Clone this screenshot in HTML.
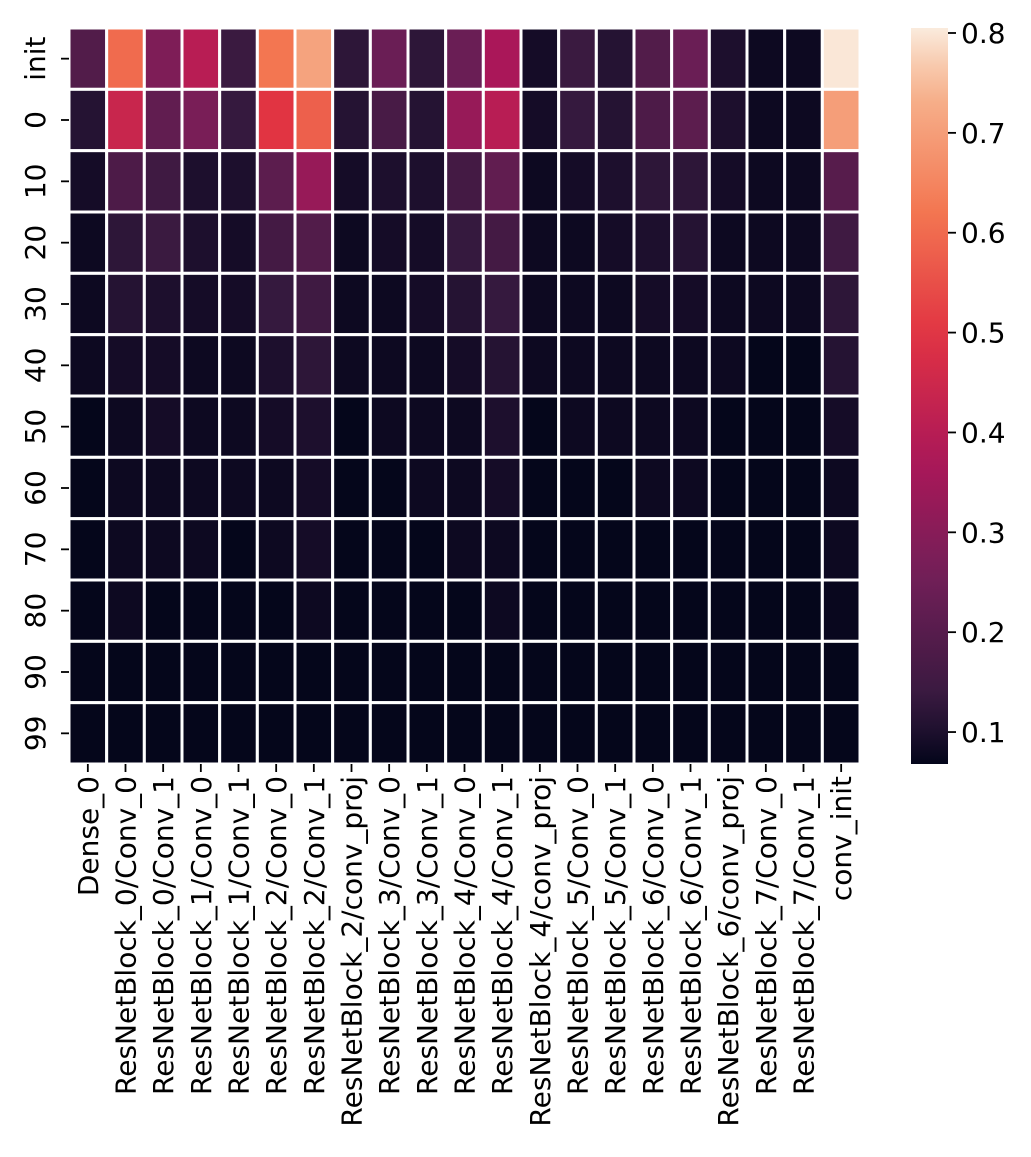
<!DOCTYPE html>
<html><head><meta charset="utf-8"><style>
body{margin:0;background:#fff}
svg text{font-family:"DejaVu Sans","Liberation Sans",sans-serif;font-size:28px;fill:#000}
</style></head><body>
<svg id="chart" width="1031" height="1152" xmlns="http://www.w3.org/2000/svg">
<defs><linearGradient id="cbgrad" x1="0" y1="1" x2="0" y2="0"></linearGradient></defs>
</svg>
<script>
const cols=["Dense_0","ResNetBlock_0/Conv_0","ResNetBlock_0/Conv_1","ResNetBlock_1/Conv_0","ResNetBlock_1/Conv_1","ResNetBlock_2/Conv_0","ResNetBlock_2/Conv_1","ResNetBlock_2/conv_proj","ResNetBlock_3/Conv_0","ResNetBlock_3/Conv_1","ResNetBlock_4/Conv_0","ResNetBlock_4/Conv_1","ResNetBlock_4/conv_proj","ResNetBlock_5/Conv_0","ResNetBlock_5/Conv_1","ResNetBlock_6/Conv_0","ResNetBlock_6/Conv_1","ResNetBlock_6/conv_proj","ResNetBlock_7/Conv_0","ResNetBlock_7/Conv_1","conv_init"];
const rows=["init","0","10","20","30","40","50","60","70","80","90","99"];
const rowInit=[0.19,0.60,0.28,0.40,0.14,0.62,0.71,0.12,0.24,0.12,0.24,0.37,0.09,0.14,0.11,0.19,0.24,0.10,0.08,0.08,0.80];
const row0=[0.11,0.44,0.22,0.27,0.13,0.50,0.58,0.11,0.17,0.11,0.33,0.40,0.09,0.13,0.11,0.18,0.21,0.10,0.08,0.08,0.70];
const row10=[0.09,0.18,0.15,0.10,0.10,0.21,0.33,0.09,0.10,0.10,0.16,0.22,0.08,0.09,0.10,0.12,0.12,0.09,0.08,0.08,0.20];
const row20=[0.08,0.12,0.14,0.10,0.09,0.16,0.19,0.08,0.09,0.09,0.13,0.16,0.08,0.08,0.09,0.10,0.11,0.08,0.08,0.08,0.15];
const row30=[0.08,0.11,0.10,0.09,0.09,0.13,0.15,0.08,0.08,0.09,0.11,0.13,0.08,0.08,0.08,0.09,0.09,0.08,0.08,0.08,0.12];
const row40=[0.08,0.09,0.09,0.08,0.08,0.10,0.12,0.08,0.08,0.08,0.09,0.11,0.08,0.08,0.08,0.08,0.08,0.08,0.07,0.07,0.11];
const row50=[0.07,0.08,0.09,0.08,0.08,0.09,0.10,0.07,0.08,0.08,0.08,0.10,0.07,0.08,0.08,0.08,0.08,0.07,0.07,0.07,0.09];
const row60=[0.07,0.08,0.08,0.08,0.08,0.08,0.09,0.07,0.07,0.08,0.08,0.09,0.07,0.07,0.07,0.08,0.08,0.07,0.07,0.07,0.08];
const row70=[0.07,0.08,0.08,0.08,0.07,0.08,0.09,0.07,0.07,0.07,0.08,0.08,0.07,0.07,0.07,0.07,0.07,0.07,0.07,0.07,0.08];
const row80=[0.07,0.08,0.07,0.07,0.07,0.07,0.08,0.07,0.07,0.07,0.07,0.08,0.07,0.07,0.07,0.07,0.07,0.07,0.07,0.07,0.075];
const row90=[0.07,0.07,0.07,0.07,0.07,0.07,0.07,0.07,0.07,0.07,0.07,0.07,0.07,0.07,0.07,0.07,0.07,0.07,0.07,0.07,0.07];
const row99=[0.07,0.07,0.07,0.07,0.07,0.07,0.07,0.07,0.07,0.07,0.07,0.07,0.07,0.07,0.07,0.07,0.07,0.07,0.07,0.07,0.07];
const values=[rowInit,row0,row10,row20,row30,row40,row50,row60,row70,row80,row90,row99];
const cbTicks=[0.1,0.2,0.3,0.4,0.5,0.6,0.7,0.8];
const vmin=0.068, vmax=0.805;

const NS="http://www.w3.org/2000/svg";
const svg=document.getElementById('chart');
const L=69,R=860,T=28,B=764;
const cw=(R-L)/cols.length, rh=(B-T)/rows.length;
const xs=i=>L+i*cw, ys=j=>T+j*rh;
const stops=[[0,[3,5,26]],[1/12,[53,25,62]],[3/12,[112,31,87]],[5/12,[173,23,89]],[7/12,[225,51,66]],[9/12,[243,118,81]],[11/12,[246,180,143]],[1,[250,235,221]]];
function cmap(t){t=Math.max(0,Math.min(1,t));for(let k=1;k<stops.length;k++){if(t<=stops[k][0]){const a=stops[k-1],b=stops[k];const f=(t-a[0])/(b[0]-a[0]);const c=a[1].map((v,i)=>Math.round(v+(b[1][i]-v)*f));return `rgb(${c})`;}}return 'rgb(250,235,221)';}
function mk(tag,attrs,parent){const e=document.createElementNS(NS,tag);for(const k in attrs)e.setAttribute(k,attrs[k]);(parent||svg).appendChild(e);return e;}
const g=mk('g',{});


values.forEach((row,j)=>row.forEach((v,i)=>{
 const r=mk('rect',{x:xs(i),y:ys(j),width:cw,height:rh,fill:cmap((v-vmin)/(vmax-vmin)),stroke:'#fff','stroke-width':3},g);
 
 
}));
cols.forEach((c,i)=>{
 const x=xs(i)+cw/2;
 const t=mk('line',{x1:x,x2:x,y1:B,y2:B+8,stroke:'#000','stroke-width':1.8});
 
 
 const tx=mk('text',{x:0,y:0,transform:`translate(${x+10},${B+12}) rotate(-90)`,'text-anchor':'end'});
 tx.textContent=c;
 
 
});
rows.forEach((r,j)=>{
 const y=ys(j)+rh/2;
 const t=mk('line',{x1:L-8,x2:L,y1:y,y2:y,stroke:'#000','stroke-width':1.8});
 
 
 const tx=mk('text',{x:0,y:0,transform:`translate(${L-24},${y}) rotate(-90)`,'text-anchor':'middle'});
 tx.textContent=r;
 
 
});
const CL=911,CR=948;
const grad=document.getElementById('cbgrad');
for(let k=0;k<=20;k++){mk('stop',{offset:k/20,'stop-color':cmap(k/20)},grad);}
const cb=mk('rect',{x:CL,y:T,width:CR-CL,height:B-T,fill:'url(#cbgrad)'});


const cy=v=>B-(v-vmin)/(vmax-vmin)*(B-T);
cbTicks.forEach(v=>{
 const y=cy(v);
 const t=mk('line',{x1:CR,x2:CR+8,y1:y,y2:y,stroke:'#000','stroke-width':1.8});
 
 
 const tx=mk('text',{x:CR+13,y:y+10});
 tx.textContent=v.toFixed(1);
 
 
});
</script>
</body></html>
